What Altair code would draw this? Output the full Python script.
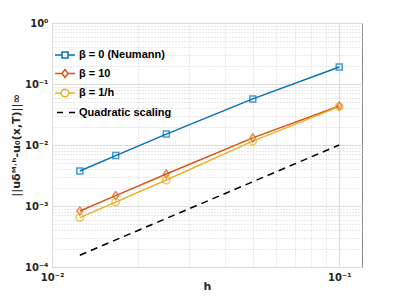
import altair as alt
import pandas as pd

# Data
h = [0.1, 0.05, 0.025, 0.016667, 0.0125]
err_neumann = [0.19, 0.057, 0.0151, 0.0067, 0.00375]
err_beta10 = [0.0436, 0.0131, 0.00335, 0.00148, 0.00083]
err_inv_h = [0.0425, 0.0116, 0.00267, 0.00116, 0.000645]
quad = [0.01, 0.0025, 0.000625, 0.000278, 0.000156]

labels = ["β = 0 (Neumann)", "β = 10", "β = 1/h", "Quadratic scaling"]
colors = ["#0072BD", "#D95319", "#EDB120", "#000000"]

x_ticks = [0.01, 0.02, 0.03, 0.04, 0.05, 0.06, 0.07, 0.08, 0.09, 0.1]
y_ticks = [m * 10 ** e for e in [-4, -3, -2, -1] for m in range(1, 10)] + [1]

series = [err_neumann, err_beta10, err_inv_h, quad]
rows = []
for lab, vals in zip(labels, series):
    for hv, v in zip(h, vals):
        rows.append({"h": hv, "err": v, "series": lab})
df = pd.DataFrame(rows)

is_major = "abs(log(datum.value)/LN10 - round(log(datum.value)/LN10)) < 0.001"
ex = "round(log(datum.value)/LN10)"
label_expr = (f"{is_major} ? ({ex} == 0 ? '10⁰' : {ex} == -1 ? '10⁻¹' : {ex} == -2 ? '10⁻²' : "
              f"{ex} == -3 ? '10⁻³' : '10⁻⁴') : ''")

def axis(title, values, **kw):
    return alt.Axis(
        title=title, values=values, labelExpr=label_expr, ticks=False, domain=False,
        grid=True,
        gridDash={"condition": {"test": is_major, "value": []}, "value": [1, 2]},
        gridColor={"condition": {"test": is_major, "value": "#dcdcdc"}, "value": "#d0d0d0"},
        labelFont="DejaVu Sans", labelFontWeight="bold", labelFontSize=10,
        labelColor="#262626", titleFont="DejaVu Sans", titleFontWeight="bold",
        titleFontSize=11, titleColor="#262626", labelFlush=False, **kw)

xenc = alt.X("h:Q", scale=alt.Scale(type="log", domain=[0.01, 0.12], nice=False),
             axis=axis("h", x_ticks, labelPadding=5, titlePadding=-2))
yenc = alt.Y("err:Q", scale=alt.Scale(type="log", domain=[1e-4, 1], nice=False),
             axis=axis("||uδᴹ˒ʰ-u₀(x,T)||∞", y_ticks, labelPadding=4, titlePadding=3))

base = alt.Chart(df)
layers = []
for i, lab in enumerate(labels):
    dash = [7, 5] if i == 3 else []
    layers.append(base.transform_filter(alt.datum.series == lab).mark_line(
        color=colors[i], strokeWidth=1.5, strokeDash=dash, clip=True).encode(x=xenc, y=yenc))

pt_shapes = ["M-1,-1H1V1H-1Z", "M0,-1L0.7,0L0,1L-0.7,0Z", "circle"]
pt_sizes = [36, 64, 56]
for i in range(3):
    layers.append(base.transform_filter(alt.datum.series == labels[i]).mark_point(
        shape=pt_shapes[i], size=pt_sizes[i], color=colors[i], filled=False,
        strokeWidth=1.5).encode(x=xenc, y=yenc))

leg_paths = [
    "M-1,0H-0.3M0.3,0H1M-0.3,-0.3H0.3V0.3H-0.3Z",
    "M-1,0H-0.3M0.3,0H1M0,-0.4L0.3,0L0,0.4L-0.3,0Z",
    "M-1,0H-0.38M0.38,0H1M0.38,0A0.38,0.38,0,1,1,-0.38,0A0.38,0.38,0,1,1,0.38,0Z",
    "M-0.8,0H-0.2M0.4,0H1",
]
legend_layer = base.mark_point(opacity=0, filled=False).encode(
    x=xenc, y=yenc,
    color=alt.Color("series:N", scale=alt.Scale(domain=labels, range=colors),
                    legend=alt.Legend(title=None, orient="none", legendX=2, legendY=21,
                                      symbolSize=400, symbolStrokeWidth=1.5,
                                      symbolOpacity=1, labelFont="Liberation Sans",
                                      labelFontWeight="bold", labelFontSize=11,
                                      labelColor="#000000", rowPadding=1.5,
                                      labelOffset=3, padding=0)),
    shape=alt.Shape("series:N", scale=alt.Scale(domain=labels, range=leg_paths)),
)
layers.append(legend_layer)

chart = alt.layer(*layers).properties(
    width=310, height=244,
    autosize=alt.AutoSizeParams(type="none"),
    padding={"left": 44, "top": 15, "right": 29, "bottom": 24},
).configure_view(stroke="#8c8c8c", strokeWidth=1)

chart.save("out.html", embed_options={"renderer": "svg", "actions": False})
